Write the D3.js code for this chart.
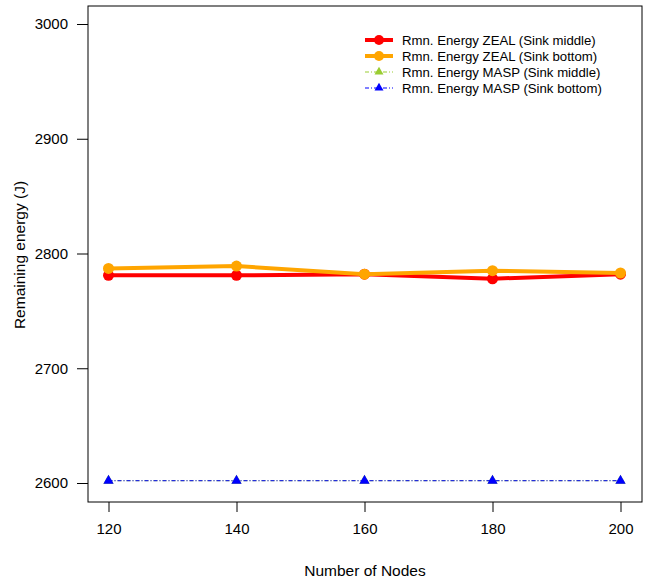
<!DOCTYPE html>
<html><head><meta charset="utf-8">
<script src="https://cdn.jsdelivr.net/npm/d3@7"></script>
<style>body{margin:0;background:#fff}svg{display:block}text{font-family:"Liberation Sans",Arial,sans-serif}</style>
</head><body>
<svg id="c" width="648" height="583"></svg>
<script>
const nodes = [120, 140, 160, 180, 200];
const zealMiddle = [2781, 2781, 2782, 2778, 2782];
const zealBottom = [2787, 2789, 2782, 2785, 2783];
const maspMiddle = [2602, 2602, 2602, 2602, 2602];
const maspBottom = [2602, 2602, 2602, 2602, 2602];
const yTicks = [2600, 2700, 2800, 2900, 3000];
const xTicks = [120, 140, 160, 180, 200];
const seriesNames = ["Rmn. Energy ZEAL (Sink middle)", "Rmn. Energy ZEAL (Sink bottom)", "Rmn. Energy MASP (Sink middle)", "Rmn. Energy MASP (Sink bottom)"];

const svg = d3.select("#c");
const L = 88, R = 642, T = 6, B = 502;
const x = d3.scaleLinear().domain([120, 200]).range([108.5, 620.5]);
const y = d3.scaleLinear().domain([2600, 3000]).range([483, 24]);

svg.append("rect").attr("x", L).attr("y", T).attr("width", R - L).attr("height", B - T)
  .attr("fill", "none").attr("stroke", "#000").attr("stroke-width", 1);

const xa = svg.append("g").attr("transform", `translate(0,${B})`)
  .call(d3.axisBottom(x).tickValues(xTicks).tickSize(10).tickPadding(11).tickFormat(d3.format("d")));
xa.select(".domain").remove();
const ya = svg.append("g").attr("transform", `translate(${L},0)`)
  .call(d3.axisLeft(y).tickValues(yTicks).tickSize(11).tickPadding(9).tickFormat(d3.format("d")));
ya.select(".domain").remove();
svg.selectAll(".tick text").attr("font-size", 15).attr("font-family", "Liberation Sans, Arial, sans-serif").attr("fill", "#000");
svg.selectAll(".tick line").attr("stroke", "#000");

svg.append("text").attr("x", 365).attr("y", 576).attr("text-anchor", "middle").attr("font-size", 15.5).text("Number of Nodes");
svg.append("text").attr("transform", "translate(25,255) rotate(-90)").attr("text-anchor", "middle").attr("font-size", 15.5).text("Remaining energy (J)");

const series = [
  {vals: zealMiddle, color: "#ff0000", w: 4, dash: null, mark: "circle"},
  {vals: zealBottom, color: "#ffa500", w: 4, dash: null, mark: "circle"},
  {vals: maspMiddle, color: "#9acd32", w: 1, dash: "4,2,1,2", mark: "tri"},
  {vals: maspBottom, color: "#0000ff", w: 1, dash: "4,2,1,2", mark: "tri"}
];
const line = d3.line().x((d, i) => x(nodes[i])).y(d => y(d));
const tri = d3.symbol().type(d3.symbolTriangle).size(45);
series.forEach(s => {
  svg.append("path").attr("d", line(s.vals)).attr("fill", "none").attr("stroke", s.color)
    .attr("stroke-width", s.w).attr("stroke-dasharray", s.dash);
  s.vals.forEach((v, i) => {
    if (s.mark === "circle") {
      svg.append("circle").attr("cx", x(nodes[i])).attr("cy", y(v)).attr("r", 5.5).attr("fill", s.color);
    } else {
      svg.append("path").attr("d", tri).attr("transform", `translate(${x(nodes[i])},${y(v)})`).attr("fill", s.color);
    }
  });
});

// legend
const lg = svg.append("g");
series.forEach((s, i) => {
  const yy = 40 + i * 16;
  lg.append("line").attr("x1", 365).attr("x2", 393).attr("y1", yy).attr("y2", yy)
    .attr("stroke", s.color).attr("stroke-width", s.w).attr("stroke-dasharray", s.dash);
  if (s.mark === "circle") lg.append("circle").attr("cx", 379).attr("cy", yy).attr("r", 5).attr("fill", s.color);
  else lg.append("path").attr("d", d3.symbol().type(d3.symbolTriangle).size(35)).attr("transform", `translate(379,${yy})`).attr("fill", s.color);
  lg.append("text").attr("x", 402).attr("y", yy + 4.5).attr("font-size", 13.2).text(seriesNames[i]);
});
</script>
</body></html>
